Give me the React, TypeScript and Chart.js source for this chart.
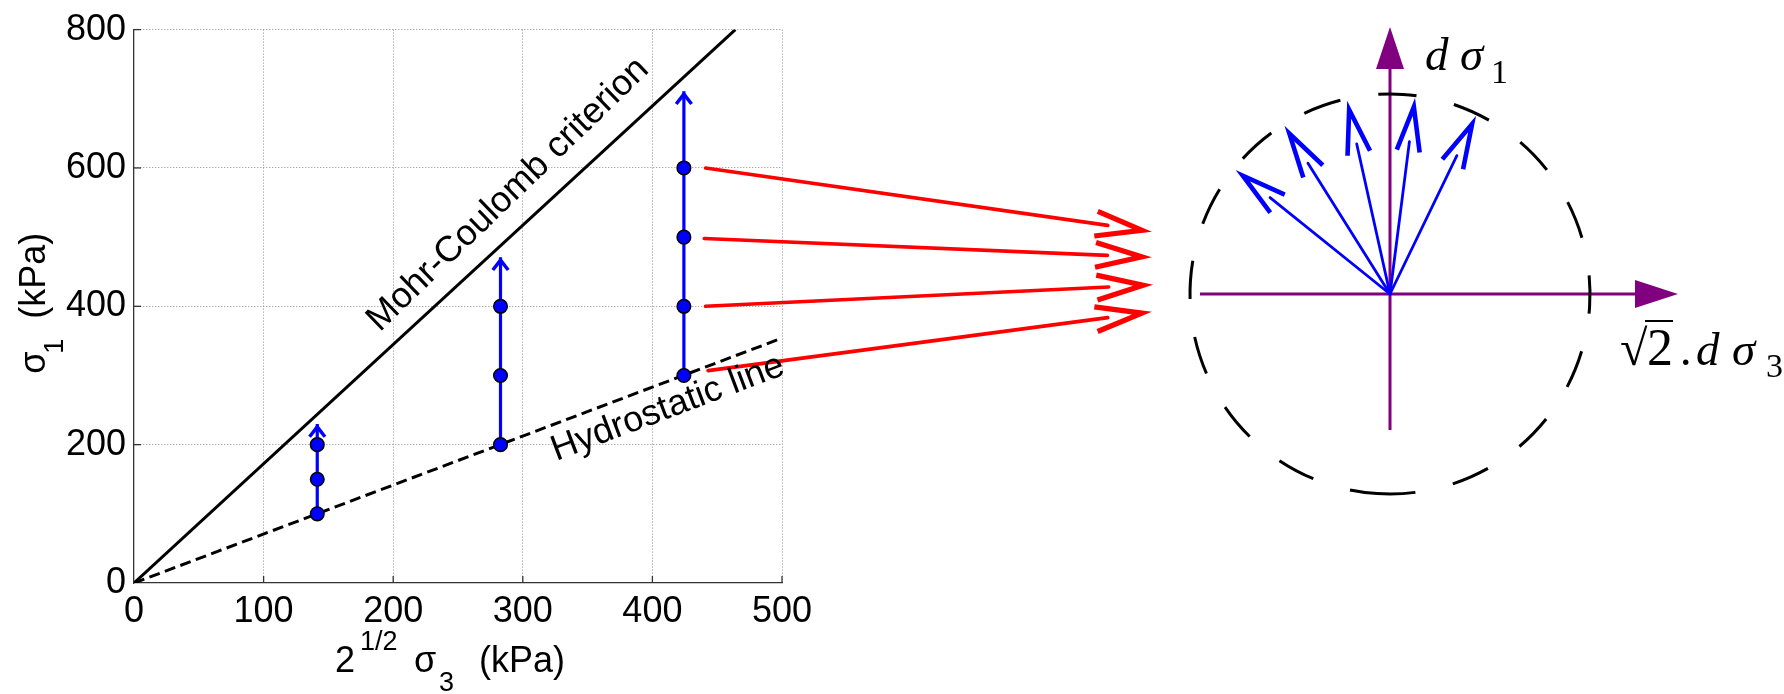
import React, { useEffect, useRef } from "react";
import { Chart, registerables } from "chart.js";

Chart.register(...registerables);

const SANS = '"Liberation Sans", Arial, Helvetica, sans-serif';
const SERIF = '"Liberation Serif", "Times New Roman", serif';

// ---------- left panel data (x = 2^1/2 sigma3, y = sigma1, kPa) ----------
const xTickValues = [0, 100, 200, 300, 400, 500];
const yTickValues = [0, 200, 400, 600, 800];
const mohrX = [0, 464];
const mohrY = [0, 800];
const hydroX = [0, 500];
const hydroY = [0, 354];
const pathX = [141.4, 282.8, 424.3];
const pathStart = [100, 200, 300];
const pathEnd = [230, 471, 711];
const pointsA = [100, 150, 200];
const pointsB = [200, 300, 400];
const pointsC = [300, 400, 500, 600];
const redStartX = [441, 440, 441, 443];
const redStartY = [600, 498, 400, 307];
const redTipX = [785, 785, 786, 785];
const redTipY = [508, 471, 431, 392];

// ---------- right panel data (unit circle of flow directions) ----------
const axisH = [-0.95, 1.225, 1.44]; // start, arrow base, arrow tip
const axisV = [-0.68, 1.125, 1.335];
const flowTipX = [-0.771, -0.527, -0.214, 0.125, 0.43];
const flowTipY = [0.62, 0.84, 0.965, 0.98, 0.89];
const circleRadius = [1];
const dLabelAt = [0.175, 1.12];
const sqrtLabelAt = [1.15, -0.355];

const PURPLE = "#800080";
const BLUE = "#0000ff";
const RED = "#ff0000";

function drawArrow(ctx, x0, y0, x1, y1, o) {
  const dx = x1 - x0, dy = y1 - y0;
  const L = Math.hypot(dx, dy);
  const ux = dx / L, uy = dy / L;
  ctx.save();
  ctx.strokeStyle = o.color;
  if (o.shaftW > 0) {
    ctx.lineCap = "round";
    ctx.lineWidth = o.shaftW;
    ctx.beginPath();
    ctx.moveTo(x0, y0);
    ctx.lineTo(x1 - ux * o.gap, y1 - uy * o.gap);
    ctx.stroke();
  }
  const vx = x1 - ux * o.inset, vy = y1 - uy * o.inset;
  const a = Math.atan2(-uy, -ux);
  const h = (o.ang * Math.PI) / 180;
  ctx.lineWidth = o.headW;
  ctx.lineJoin = "miter";
  ctx.lineCap = "butt";
  ctx.beginPath();
  ctx.moveTo(vx + Math.cos(a + h) * o.len, vy + Math.sin(a + h) * o.len);
  ctx.lineTo(vx, vy);
  ctx.lineTo(vx + Math.cos(a - h) * o.len, vy + Math.sin(a - h) * o.len);
  ctx.stroke();
  ctx.restore();
}

const leftPlugin = {
  id: "leftDecor",
  afterDraw(chart) {
    const { ctx, chartArea: a } = chart;
    const xs = chart.scales.x, ys = chart.scales.y;
    ctx.save();
    // inward tick marks
    ctx.strokeStyle = "#333";
    ctx.lineWidth = 1.3;
    xTickValues.forEach((v) => {
      if (v === 0) return;
      const px = xs.getPixelForValue(v);
      ctx.beginPath();
      ctx.moveTo(px, a.bottom);
      ctx.lineTo(px, a.bottom - 7);
      ctx.stroke();
    });
    yTickValues.forEach((v) => {
      if (v === 0) return;
      const py = ys.getPixelForValue(v);
      ctx.beginPath();
      ctx.moveTo(a.left, py);
      ctx.lineTo(a.left + 7, py);
      ctx.stroke();
    });
    // small blue arrow heads on stress paths
    pathX.forEach((x, i) => {
      const px = xs.getPixelForValue(x), py = ys.getPixelForValue(pathEnd[i]);
      const p0 = ys.getPixelForValue(pathStart[i]);
      drawArrow(ctx, px, p0, px, py, { color: BLUE, shaftW: 0, headW: 3.5, gap: 0, inset: 3, len: 12.5, ang: 38 });
    });
    // red arrows to the flow diagram
    redStartX.forEach((x, i) => {
      drawArrow(
        ctx,
        xs.getPixelForValue(x), ys.getPixelForValue(redStartY[i]),
        xs.getPixelForValue(redTipX[i]), ys.getPixelForValue(redTipY[i]),
        { color: RED, shaftW: 3.6, headW: 5.2, gap: 44, inset: 9.5, len: 48, ang: 15 }
      );
    });
    ctx.fillStyle = "#000";
    ctx.textBaseline = "alphabetic";
    // Mohr-Coulomb label
    {
      const p0x = xs.getPixelForValue(mohrX[0]), p0y = ys.getPixelForValue(mohrY[0]);
      const p1x = xs.getPixelForValue(mohrX[1]), p1y = ys.getPixelForValue(mohrY[1]);
      const ang = Math.atan2(p1y - p0y, p1x - p0x);
      const lx = 199;
      const px = xs.getPixelForValue(lx), py = ys.getPixelForValue((lx * mohrY[1]) / mohrX[1]);
      const nx = Math.sin(ang), ny = -Math.cos(ang);
      ctx.save();
      ctx.translate(px + nx * 18, py + ny * 18);
      ctx.rotate((-44 * Math.PI) / 180);
      ctx.font = `36px ${SANS}`;
      ctx.textAlign = "left";
      ctx.fillText("Mohr-Coulomb criterion", 0, 0);
      ctx.restore();
    }
    // Hydrostatic label
    {
      const p0x = xs.getPixelForValue(hydroX[0]), p0y = ys.getPixelForValue(hydroY[0]);
      const p1x = xs.getPixelForValue(hydroX[1]), p1y = ys.getPixelForValue(hydroY[1]);
      const ang = Math.atan2(p1y - p0y, p1x - p0x);
      const lx = 405;
      const px = xs.getPixelForValue(lx), py = ys.getPixelForValue((lx * hydroY[1]) / hydroX[1]);
      ctx.save();
      ctx.translate(px, py);
      ctx.rotate(ang);
      ctx.font = `36px ${SANS}`;
      ctx.textAlign = "center";
      ctx.fillText("Hydrostatic line", 0, 35);
      ctx.restore();
    }
    // x title
    {
      ctx.textAlign = "left";
      const cx = xs.getPixelForValue(250);
      const by = a.bottom + 89;
      ctx.font = `36px ${SANS}`;
      ctx.fillText("2", cx - 123, by);
      ctx.font = `27px ${SANS}`;
      ctx.fillText("1/2", cx - 98, by - 22);
      ctx.font = `36px ${SANS}`;
      ctx.fillText("σ", cx - 44, by);
      ctx.font = `27px ${SANS}`;
      ctx.fillText("3", cx - 19, by + 19);
      ctx.font = `36px ${SANS}`;
      ctx.fillText("(kPa)", cx + 21, by);
    }
    // y title
    {
      ctx.save();
      ctx.translate(a.left - 89, ys.getPixelForValue(400) + 67.5);
      ctx.rotate(-Math.PI / 2);
      ctx.textAlign = "left";
      ctx.font = `36px ${SANS}`;
      ctx.fillText("σ", 0, 0);
      ctx.font = `27px ${SANS}`;
      ctx.fillText("1", 20, 18);
      ctx.font = `36px ${SANS}`;
      ctx.fillText("(kPa)", 55, 0);
      ctx.restore();
    }
    ctx.restore();
  },
};

const rightPlugin = {
  id: "rightDecor",
  afterDraw(chart) {
    const { ctx } = chart;
    const xs = chart.scales.x, ys = chart.scales.y;
    const cx = xs.getPixelForValue(0), cy = ys.getPixelForValue(0);
    const r = xs.getPixelForValue(circleRadius[0]) - cx;
    ctx.save();
    // dashed circle
    const dash = (r * 11 * Math.PI) / 180;
    ctx.strokeStyle = "#000";
    ctx.lineWidth = 3;
    ctx.setLineDash([dash, dash]);
    const start = (-266.3 * Math.PI) / 180;
    ctx.beginPath();
    ctx.arc(cx, cy, r, start, start - 2 * Math.PI + 0.0001, true);
    ctx.stroke();
    ctx.setLineDash([]);
    // flow arrows
    flowTipX.forEach((tx, i) => {
      drawArrow(ctx, cx, cy, xs.getPixelForValue(tx), ys.getPixelForValue(flowTipY[i]), {
        color: BLUE, shaftW: 2.8, headW: 4.6, gap: 44, inset: 9, len: 46, ang: 14.5,
      });
    });
    // purple arrow heads
    ctx.fillStyle = PURPLE;
    {
      const bx = xs.getPixelForValue(axisH[1]), tx = xs.getPixelForValue(axisH[2]);
      ctx.beginPath();
      ctx.moveTo(bx, cy - 14);
      ctx.lineTo(tx, cy);
      ctx.lineTo(bx, cy + 14);
      ctx.closePath();
      ctx.fill();
      const by = ys.getPixelForValue(axisV[1]), ty = ys.getPixelForValue(axisV[2]);
      ctx.beginPath();
      ctx.moveTo(cx - 14, by);
      ctx.lineTo(cx, ty);
      ctx.lineTo(cx + 14, by);
      ctx.closePath();
      ctx.fill();
    }
    // labels
    ctx.fillStyle = "#000";
    ctx.textAlign = "left";
    ctx.textBaseline = "alphabetic";
    {
      const ax = xs.getPixelForValue(dLabelAt[0]), ay = ys.getPixelForValue(dLabelAt[1]);
      ctx.font = `italic 47px ${SERIF}`;
      ctx.fillText("d", ax, ay);
      ctx.fillText("σ", ax + 35, ay);
      ctx.font = `34px ${SERIF}`;
      ctx.fillText("1", ax + 66, ay + 13);
    }
    {
      const ax = xs.getPixelForValue(sqrtLabelAt[0]), ay = ys.getPixelForValue(sqrtLabelAt[1]);
      ctx.font = `50px ${SERIF}`;
      ctx.fillText("√", ax, ay);
      ctx.strokeStyle = "#000";
      ctx.lineWidth = 2;
      ctx.beginPath();
      ctx.moveTo(ax + 25, ay - 44);
      ctx.lineTo(ax + 53, ay - 44);
      ctx.stroke();
      ctx.font = `52px ${SERIF}`;
      ctx.fillText("2", ax + 27, ay);
      ctx.font = `italic 47px ${SERIF}`;
      ctx.fillText(".", ax + 61, ay);
      ctx.fillText("d", ax + 76, ay);
      ctx.fillText("σ", ax + 112, ay);
      ctx.font = `34px ${SERIF}`;
      ctx.fillText("3", ax + 146, ay + 12);
    }
    ctx.restore();
  },
};

export default function App() {
  const leftRef = useRef(null);
  const rightRef = useRef(null);

  useEffect(() => {
    const markers = [
      ...pointsA.map((y) => ({ x: pathX[0], y })),
      ...pointsB.map((y) => ({ x: pathX[1], y })),
      ...pointsC.map((y) => ({ x: pathX[2], y })),
    ];
    const gridColor = (c) => (c.tick && c.tick.value === 0 ? "rgba(0,0,0,0)" : "#8c8c8c");
    const c1 = new Chart(leftRef.current, {
      type: "scatter",
      data: {
        datasets: [
          {
            data: markers,
            pointRadius: 6.8,
            pointBackgroundColor: BLUE,
            pointBorderColor: "#000",
            pointBorderWidth: 1.5,
            showLine: false,
          },
          ...pathX.map((x, i) => ({
            data: [{ x, y: pathStart[i] }, { x, y: pathEnd[i] }],
            showLine: true,
            borderColor: BLUE,
            borderWidth: 3.2,
            pointRadius: 0,
          })),
          {
            data: mohrX.map((x, i) => ({ x, y: mohrY[i] })),
            showLine: true,
            borderColor: "#000",
            borderWidth: 3,
            pointRadius: 0,
          },
          {
            data: hydroX.map((x, i) => ({ x, y: hydroY[i] })),
            showLine: true,
            borderColor: "#000",
            borderWidth: 3,
            borderDash: [11, 5.5],
            pointRadius: 0,
          },
        ],
      },
      options: {
        responsive: false,
        animation: false,
        events: [],
        layout: { padding: { left: 0, top: 26, right: 1002, bottom: 0 } },
        plugins: { legend: { display: false }, tooltip: { enabled: false } },
        scales: {
          x: {
            type: "linear",
            min: 0,
            max: 500,
            afterFit: (s) => { s.height = 111; },
            afterBuildTicks: (s) => { s.ticks = xTickValues.map((v) => ({ value: v })); },
            ticks: { color: "#000", font: { family: SANS, size: 36 }, padding: 7, maxRotation: 0, autoSkip: false },
            grid: { drawTicks: false, color: gridColor, lineWidth: 1 },
            border: { display: true, color: "#333", width: 1.3, dash: [1, 2] },
          },
          y: {
            type: "linear",
            min: 0,
            max: 800,
            afterFit: (s) => { s.width = 134; },
            afterBuildTicks: (s) => { s.ticks = yTickValues.map((v) => ({ value: v })); },
            ticks: { color: "#000", font: { family: SANS, size: 36 }, padding: 8, autoSkip: false },
            grid: { drawTicks: false, color: gridColor, lineWidth: 1 },
            border: { display: true, color: "#333", width: 1.3, dash: [1, 2] },
          },
        },
      },
      plugins: [leftPlugin],
    });

    const c2 = new Chart(rightRef.current, {
      type: "scatter",
      data: {
        datasets: [
          {
            data: [{ x: axisH[0], y: 0 }, { x: axisH[1], y: 0 }],
            showLine: true,
            borderColor: PURPLE,
            borderWidth: 3,
            pointRadius: 0,
          },
          {
            data: [{ x: 0, y: axisV[0] }, { x: 0, y: axisV[1] }],
            showLine: true,
            borderColor: PURPLE,
            borderWidth: 3,
            pointRadius: 0,
          },
        ],
      },
      options: {
        responsive: false,
        animation: false,
        events: [],
        layout: { padding: 0 },
        plugins: { legend: { display: false }, tooltip: { enabled: false } },
        scales: {
          x: { type: "linear", display: false, min: -1.15, max: 1.97 },
          y: { type: "linear", display: false, min: -1.47, max: 1.47 },
        },
      },
      plugins: [rightPlugin],
    });

    return () => {
      c1.destroy();
      c2.destroy();
    };
  }, []);

  return (
    <div style={{ position: "fixed", left: 0, top: 0, width: 1784, height: 694, background: "#fff" }}>
      <canvas
        ref={leftRef}
        width={1784}
        height={694}
        style={{ position: "absolute", left: 0, top: 0, width: 1784, height: 694 }}
      />
      <canvas
        ref={rightRef}
        width={624}
        height={588}
        style={{ position: "absolute", left: 1160, top: 0, width: 624, height: 588 }}
      />
    </div>
  );
}
